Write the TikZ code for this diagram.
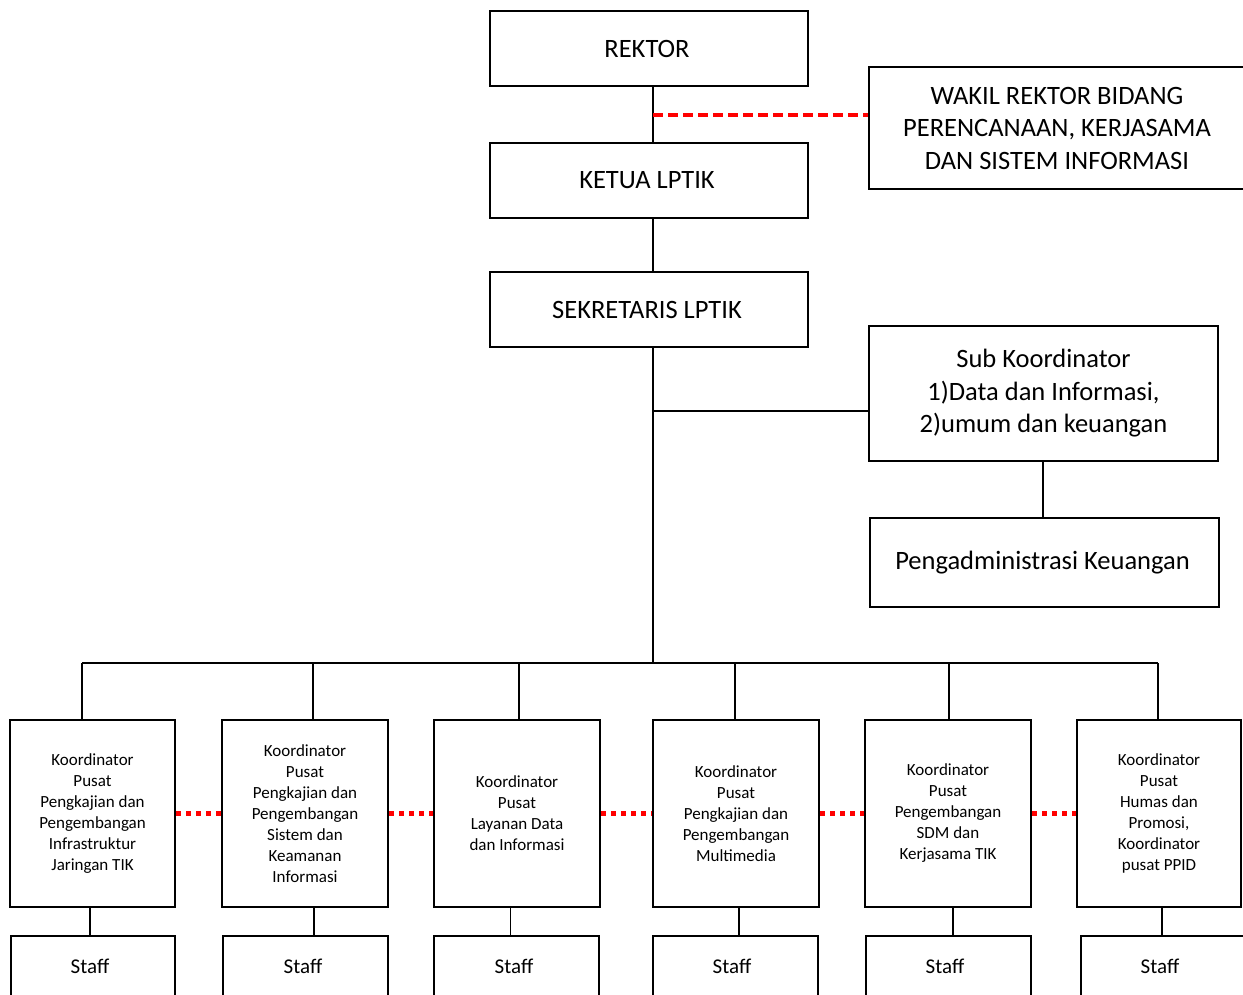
\documentclass[tikz,border=0pt]{standalone}
\usepackage{fontspec}
\setmainfont{Carlito}
\begin{document}
\begin{tikzpicture}[x=1pt,y=-1pt,
  box/.style={draw, line width=2.4pt, inner sep=0pt, align=center},
  big/.style={font=\fontsize{26.5}{32.5}\selectfont},
  kfont/.style={font=\fontsize{17}{21}\selectfont},
  sfont/.style={font=\fontsize{21}{25}\selectfont},
  conn/.style={line width=2.4pt},
  thinconn/.style={line width=1pt},
  reddash/.style={red, line width=3.5pt, dash pattern=on 10pt off 5pt},
  reddot/.style={red, line width=5pt, dash pattern=on 5pt off 5pt}]
\useasboundingbox (0,0) rectangle (1243,995);
\clip (0,0) rectangle (1243,995);
% top chain
\node[box,big,minimum width=318pt,minimum height=75pt] (rektor) at (649,48.5) {REKTOR\hspace*{4pt}};
\node[box,big,minimum width=318pt,minimum height=75pt] (ketua) at (649,180.5) {KETUA LPTIK\hspace*{4pt}};
\node[box,big,minimum width=318pt,minimum height=75pt] (sekr) at (649,309.5) {SEKRETARIS LPTIK\hspace*{4pt}};
\node[box,big,minimum width=376pt,minimum height=122pt] (wakil) at (1057,128) {WAKIL REKTOR BIDANG\\PERENCANAAN, KERJASAMA\\DAN SISTEM INFORMASI};
\node[box,big,minimum width=349pt,minimum height=135pt] (sub) at (1043.5,393.5) {Sub Koordinator\\1)Data dan Informasi,\\2)umum dan keuangan};
\node[box,big,minimum width=349pt,minimum height=89pt] (peng) at (1044.5,562.5) {Pengadministrasi Keuangan\hspace*{4pt}};
% coordinates
\coordinate (spine) at (653,0);
\coordinate (wk) at (653,115);
\coordinate (wkend) at (868,115);
\coordinate (sb) at (653,411);
\coordinate (subx) at (1043,0);
\coordinate (busL) at (82,663);
\coordinate (busR) at (1158,663);
\coordinate (busM) at (653,663);
% koordinator boxes
\node[box,kfont,minimum width=165pt,minimum height=187pt] (k1) at (92.5,813.5) {Koordinator\\Pusat\\Pengkajian dan\\Pengembangan\\Infrastruktur\\Jaringan TIK};
\node[box,kfont,minimum width=166pt,minimum height=187pt] (k2) at (305,813.5) {Koordinator\\Pusat\\Pengkajian dan\\Pengembangan\\Sistem dan\\Keamanan\\Informasi};
\node[box,kfont,minimum width=166pt,minimum height=187pt] (k3) at (517,813.5) {Koordinator\\Pusat\\Layanan Data\\dan Informasi};
\node[box,kfont,minimum width=166pt,minimum height=187pt] (k4) at (736,813.5) {Koordinator\\Pusat\\Pengkajian dan\\Pengembangan\\Multimedia};
\node[box,kfont,minimum width=166pt,minimum height=187pt] (k5) at (948,813.5) {Koordinator\\Pusat\\Pengembangan\\SDM dan\\Kerjasama TIK};
\node[box,kfont,minimum width=164pt,minimum height=187pt] (k6) at (1159,813.5) {Koordinator\\Pusat\\Humas dan\\Promosi,\\Koordinator\\pusat PPID};
% staff boxes
\node[box,minimum width=164pt,minimum height=80pt] (s1) at (93,976) {};
\node[box,minimum width=165pt,minimum height=80pt] (s2) at (305.5,976) {};
\node[box,minimum width=165pt,minimum height=80pt] (s3) at (516.5,976) {};
\node[box,minimum width=165pt,minimum height=80pt] (s4) at (735.5,976) {};
\node[box,minimum width=165pt,minimum height=80pt] (s5) at (948.5,976) {};
\node[box,minimum width=169pt,minimum height=80pt] (s6) at (1165.5,976) {};
\foreach \s/\x in {s1/90,s2/303,s3/514,s4/732,s5/945,s6/1160}{
  \node[sfont] (\s t) at (\x,966) {Staff};
}
% bus drop coordinates
\foreach \i/\x in {1/82,2/313,3/519,4/735,5/949,6/1158}{
  \coordinate (d\i) at (\x,663);
}
\foreach \i/\x in {1/90,2/314,3/510,4/739,5/953,6/1162}{
  \coordinate (c\i) at (\x,0);
}
% connectors
\draw[conn] (rektor.south -| spine) -- (ketua.north -| spine);
\draw[conn] (ketua.south -| spine) -- (sekr.north -| spine);
\draw[conn] (sekr.south -| spine) -- (busM);
\draw[reddash] (wk) -- (wkend);
\draw[conn] (sb) -- (sb -| sub.west);
\draw[conn] (sub.south -| subx) -- (peng.north -| subx);
\draw[conn] (busL) -- (busR);
\foreach \i in {1,2,3,4,5,6}{
  \draw[conn] (d\i) -- (d\i |- k\i.north);
}
\foreach \i in {1,2,4,5,6}{
  \draw[conn] (k\i.south -| c\i) -- (s\i.north -| c\i);
}
\draw[thinconn] (k3.south -| c3) -- (s3.north -| c3);
\draw[reddot] (k1.east) -- (k2.west);
\draw[reddot] (k2.east) -- (k3.west);
\draw[reddot] (k3.east) -- (k4.west);
\draw[reddot] (k4.east) -- (k5.west);
\draw[reddot] (k5.east) -- (k6.west);
\end{tikzpicture}
\end{document}
